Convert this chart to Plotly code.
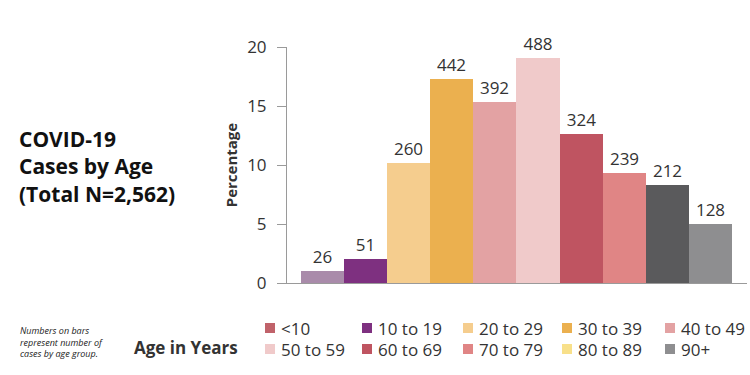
import plotly.graph_objects as go

# ---- data ----
age_groups = ["<10", "10 to 19", "20 to 29", "30 to 39", "40 to 49",
              "50 to 59", "60 to 69", "70 to 79", "80 to 89", "90+"]
case_counts = [26, 51, 260, 442, 392, 488, 324, 239, 212, 128]
percentages = [1.0, 2.0, 10.15, 17.25, 15.3, 19.05, 12.65, 9.33, 8.27, 5.0]
bar_colors = ["#A98BAA", "#7E3080", "#F5CD8E", "#EBB04F", "#E3A2A3",
              "#F0CACA", "#BF5461", "#E08585", "#5A5A5C", "#8E8E90"]
legend_labels = ["<10", "10 to 19", "20 to 29", "30 to 39", "40 to 49",
                 "50 to 59", "60 to 69", "70 to 79", "80 to 89", "90+"]
legend_colors = ["#C0626A", "#7E3080", "#F5CD8E", "#EBB04F", "#E3A2A3",
                 "#F0CACA", "#BF5461", "#E08585", "#F8E08A", "#8E8E90"]
y_ticks = [0, 5, 10, 15, 20]

# ---- layout geometry (pixels) ----
W, H = 750, 375
PL, PR, PT, PB = 287, 747, 47, 283   # plot area edges
FONT = "Open Sans"
TXT = "#333333"


def px_x(px):
    return (px - PL) / (PR - PL)


def px_y(py):
    return (PB - py) / (PB - PT)


fig = go.Figure()
fig.add_trace(go.Bar(
    x=list(range(len(age_groups))),
    y=percentages,
    text=[str(c) for c in case_counts],
    textposition="outside",
    textfont=dict(family=FONT, size=17, color=TXT),
    marker=dict(color=bar_colors, line=dict(width=0)),
    cliponaxis=False,
    showlegend=False,
    hovertext=age_groups,
))

annotations = [
    dict(text="<b>COVID-19<br>Cases by Age<br>(Total N=2,562)</b>",
         x=px_x(17), y=px_y(166), xref="paper", yref="paper",
         xanchor="left", yanchor="middle", align="left", showarrow=False,
         font=dict(family=FONT, size=21, color="#111111")),
    dict(text="<i>Numbers on bars<br>represent number of<br>cases by age group.</i>",
         x=px_x(18), y=px_y(342), xref="paper", yref="paper",
         xanchor="left", yanchor="middle", align="left", showarrow=False,
         font=dict(family=FONT, size=9, color="#222222")),
    dict(text="<b>Age in Years</b>",
         x=px_x(240), y=px_y(347), xref="paper", yref="paper",
         xanchor="right", yanchor="middle", showarrow=False,
         font=dict(family=FONT, size=17, color=TXT)),
]
shapes = []

col_px = [265, 362, 463, 562, 665]
row_px = [328, 349]
for i, (lab, col) in enumerate(zip(legend_labels, legend_colors)):
    cx = col_px[i % 5]
    cy = row_px[i // 5]
    shapes.append(dict(type="rect", xref="paper", yref="paper",
                       x0=px_x(cx), x1=px_x(cx + 10),
                       y0=px_y(cy + 5), y1=px_y(cy - 5),
                       fillcolor=col, line=dict(width=0)))
    annotations.append(dict(text=lab, x=px_x(cx + 14), y=px_y(cy),
                            xref="paper", yref="paper", xanchor="left",
                            yanchor="middle", showarrow=False,
                            font=dict(family=FONT, size=17, color=TXT)))

fig.update_layout(
    width=W, height=H,
    margin=dict(l=PL, r=W - PR, t=PT, b=H - PB, pad=0),
    paper_bgcolor="white", plot_bgcolor="white",
    bargap=0,
    font=dict(family=FONT, color=TXT),
    annotations=annotations,
    shapes=shapes,
    xaxis=dict(range=[-0.826, 9.85], showticklabels=False, ticks="",
               showgrid=False, zeroline=False, showline=True,
               linecolor="#9a9a9a", linewidth=1, fixedrange=True),
    yaxis=dict(range=[0, 20], tickvals=y_ticks, ticks="outside", ticklen=9,
               tickcolor="#9a9a9a", showgrid=False, zeroline=False,
               showline=True, linecolor="#9a9a9a", linewidth=1,
               tickfont=dict(family=FONT, size=17, color=TXT),
               ticklabelstandoff=7,
               title=dict(text="<b>Percentage</b>", standoff=5,
                          font=dict(family=FONT, size=15, color=TXT))),
)

fig.write_html("out.html",
               config={"displayModeBar": False},
               post_script="document.body.style.margin='0px';"
                           "document.body.style.padding='0px';")
